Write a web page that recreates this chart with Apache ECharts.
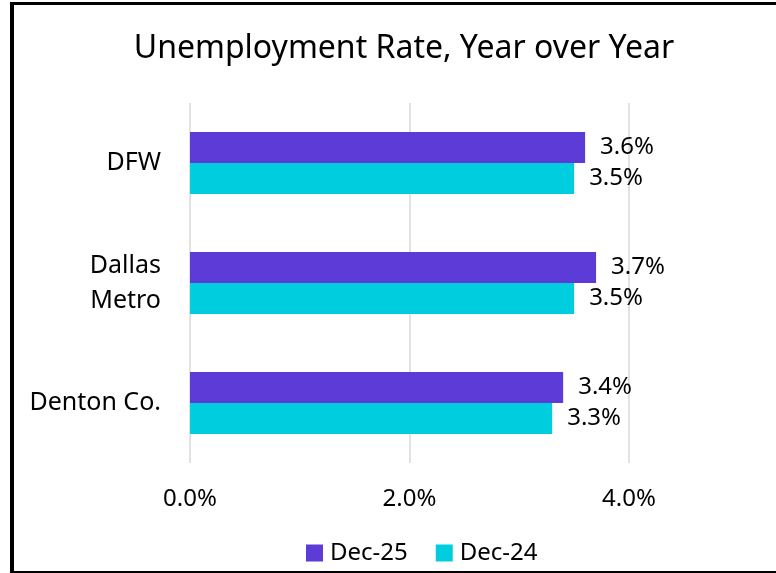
<!DOCTYPE html>
<html>
<head>
<meta charset="utf-8">
<script src="https://cdn.jsdelivr.net/npm/echarts@6/dist/echarts.min.js"></script>
<style>
  html, body { margin: 0; padding: 0; background: #fff; }
  #wrap { position: relative; width: 776px; height: 573px; overflow: hidden; }
  #chart { position: absolute; left: 0; top: 0; width: 776px; height: 573px; }
  #frame {
    position: absolute; left: 10px; top: 2px; width: 800px; height: 571px;
    box-sizing: border-box; pointer-events: none;
    border-left: 4px solid #000; border-top: 3px solid #000; border-bottom: 2px solid #000;
  }
</style>
</head>
<body>
<div id="wrap">
  <div id="chart"></div>
  <div id="frame"></div>
</div>
<script>
// Unemployment rate (%) by area
const categories = ['DFW', 'Dallas\nMetro', 'Denton Co.'];
const seriesNames = ['Dec-25', 'Dec-24'];
const dec25 = [3.6, 3.7, 3.4];
const dec24 = [3.5, 3.5, 3.3];
const axisTicks = [0, 2, 4];

const FONT = 'Noto Sans';
const pct = v => Number(v).toFixed(1) + '%';

const chart = echarts.init(document.getElementById('chart'), null, { renderer: 'canvas' });

const valueLabel = {
  show: true,
  position: 'right',
  distance: 15,
  color: '#000',
  fontFamily: FONT,
  fontSize: 24,
  padding: [3, 0, 0, 0],
  formatter: p => pct(p.value)
};

chart.setOption({
  animation: false,
  title: {
    text: 'Unemployment Rate, Year over Year',
    left: 404,
    top: 33,
    padding: 0,
    textAlign: 'center',
    textStyle: { color: '#000', fontFamily: FONT, fontSize: 32, fontWeight: 'normal' }
  },
  legend: {
    data: seriesNames,
    left: 306,
    top: 541,
    padding: 0,
    icon: 'rect',
    itemWidth: 17,
    itemHeight: 17,
    itemGap: 28,
    textStyle: { color: '#000', fontFamily: FONT, fontSize: 24, padding: [0, 0, 0, 2] }
  },
  grid: { left: 190, right: 147, top: 103, bottom: 110, containLabel: false },
  xAxis: {
    type: 'value',
    min: axisTicks[0],
    max: axisTicks[axisTicks.length - 1],
    interval: axisTicks[1] - axisTicks[0],
    axisLine: { show: false },
    axisTick: { show: false },
    splitLine: { show: true, lineStyle: { color: '#D9D9D9', width: 1.5 } },
    axisLabel: { color: '#000', fontFamily: FONT, fontSize: 24, margin: 24, formatter: pct }
  },
  yAxis: {
    type: 'category',
    data: categories,
    inverse: true,
    axisLine: { show: false },
    axisTick: { show: false },
    splitLine: { show: false },
    axisLabel: {
      color: '#000', fontFamily: FONT, fontSize: 25, lineHeight: 35,
      margin: 29, align: 'right', padding: [2, 0, 0, 0]
    }
  },
  series: [
    {
      name: seriesNames[0], type: 'bar', data: dec25,
      barWidth: 31, barGap: '0%',
      itemStyle: { color: '#5D3BD6' },
      label: valueLabel
    },
    {
      name: seriesNames[1], type: 'bar', data: dec24,
      barWidth: 31, barGap: '0%',
      itemStyle: { color: '#00CEDF' },
      label: valueLabel
    }
  ]
});
</script>
</body>
</html>
